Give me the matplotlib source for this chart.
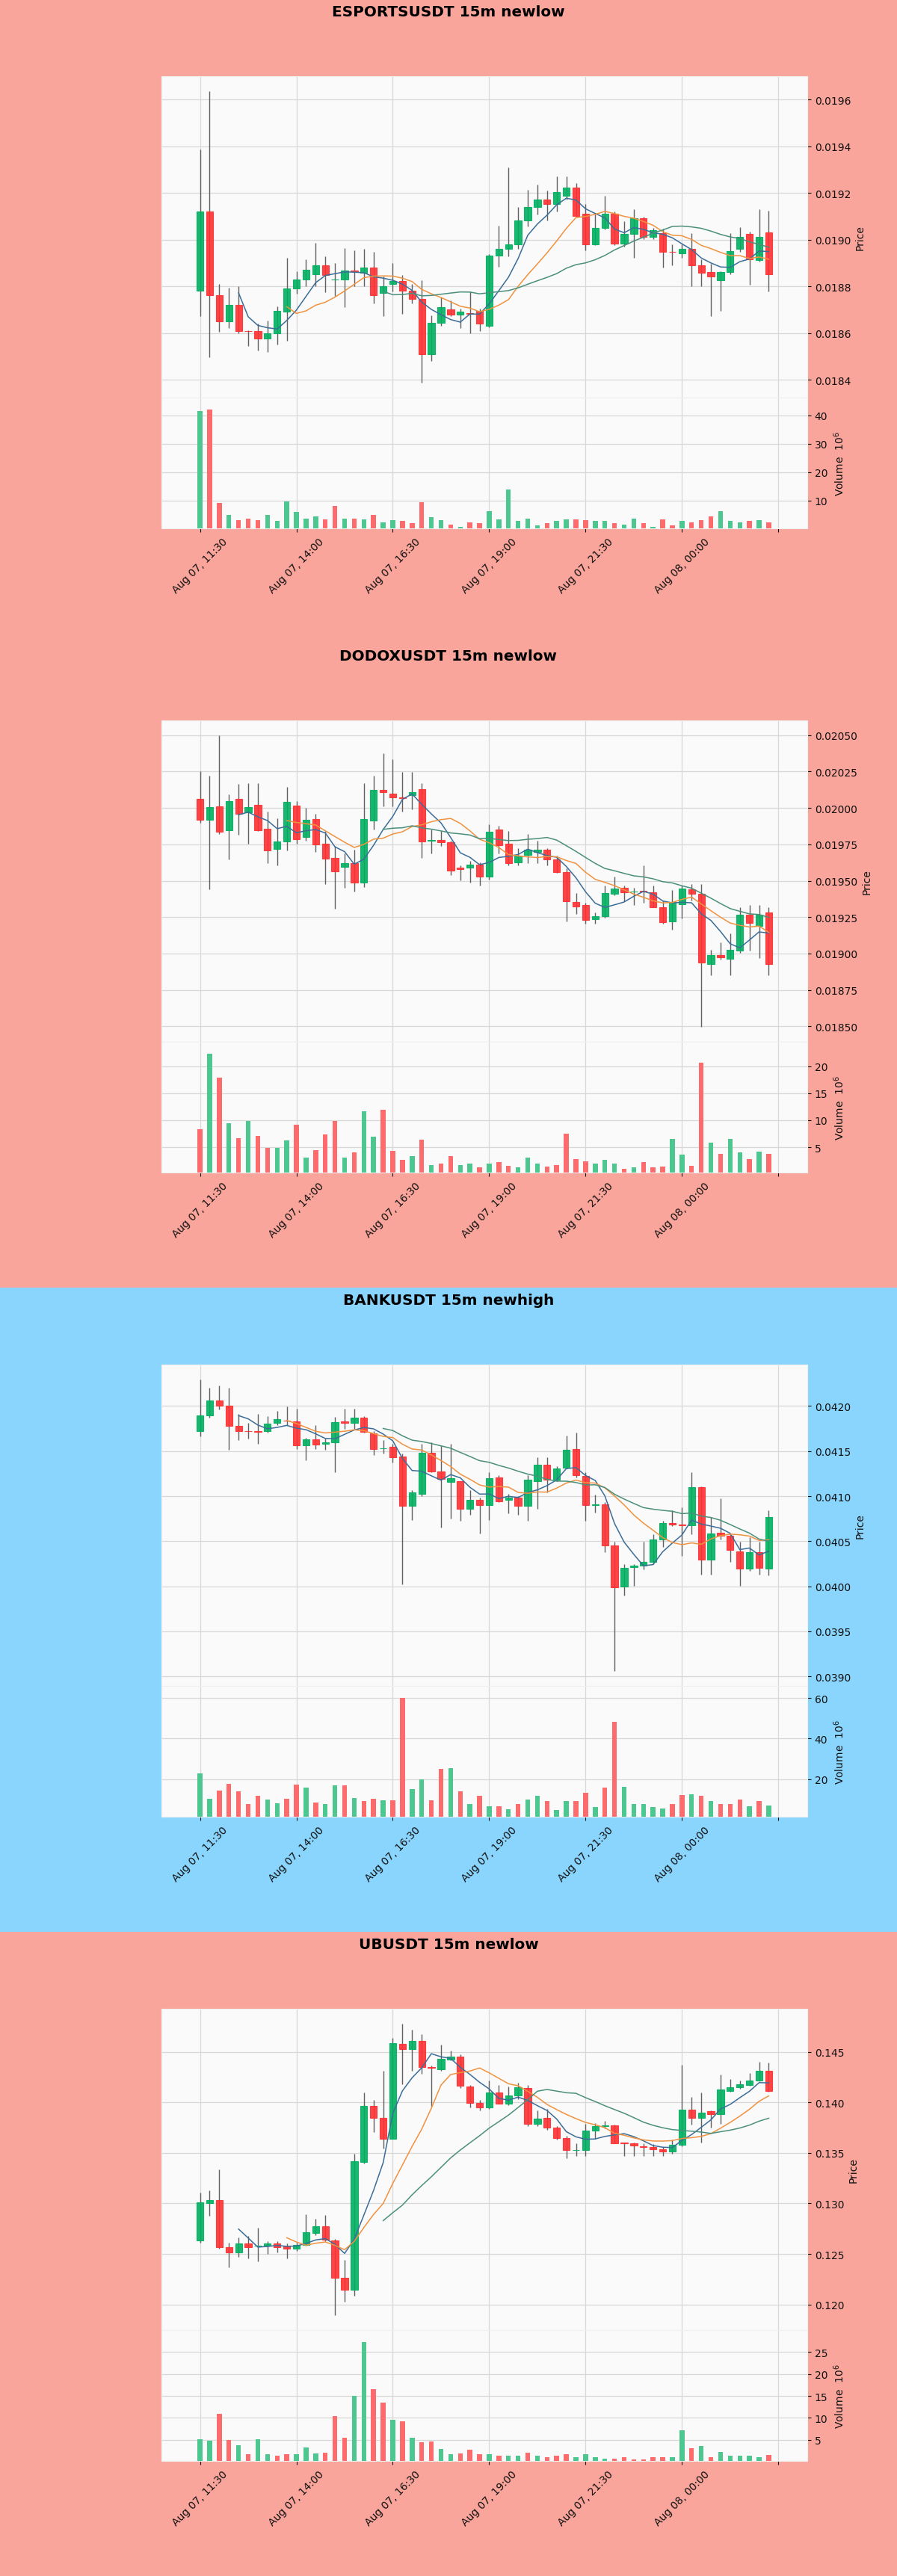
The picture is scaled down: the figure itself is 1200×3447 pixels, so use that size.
import matplotlib
matplotlib.use("Agg")
import matplotlib.pyplot as plt
from matplotlib.patches import Rectangle
from matplotlib.ticker import FormatStrFormatter
import numpy as np
import pandas as pd

# ---- dados (velas de 15m, 60 por painel) ----
tick_pos = [0, 10, 20, 30, 40, 50, 60]
tick_labels = ["Aug 07, 11:30", "Aug 07, 14:00", "Aug 07, 16:30",
               "Aug 07, 19:00", "Aug 07, 21:30", "Aug 08, 00:00", ""]
ma_windows = [5, 10, 20]

# ESPORTSUSDT
esports_open = [0.018781, 0.019119, 0.018761, 0.018649, 0.018721, 0.018609, 0.018607, 0.018577, 0.018598, 0.018690,
                0.018792, 0.018830, 0.018850, 0.018891, 0.018830, 0.018830, 0.018866, 0.018857, 0.018880, 0.018771,
                0.018811, 0.018824, 0.018781, 0.018747, 0.018510, 0.018643, 0.018701, 0.018678, 0.018685, 0.018694,
                0.018632, 0.018930, 0.018960, 0.018981, 0.019082, 0.019140, 0.019170, 0.019151, 0.019188, 0.019223,
                0.019110, 0.018981, 0.019050, 0.019110, 0.018983, 0.019023, 0.019090, 0.019011, 0.019029, 0.018949,
                0.018941, 0.018960, 0.018891, 0.018861, 0.018827, 0.018861, 0.018960, 0.019023, 0.018912, 0.019031]
esports_close = [0.019119, 0.018761, 0.018649, 0.018721, 0.018609, 0.018607, 0.018577, 0.018598, 0.018694, 0.018792,
                 0.018830, 0.018871, 0.018891, 0.018848, 0.018830, 0.018869, 0.018864, 0.018880, 0.018761, 0.018800,
                 0.018824, 0.018781, 0.018747, 0.018510, 0.018643, 0.018710, 0.018678, 0.018692, 0.018683, 0.018641,
                 0.018930, 0.018960, 0.018981, 0.019082, 0.019140, 0.019170, 0.019151, 0.019202, 0.019223, 0.019102,
                 0.018981, 0.019050, 0.019110, 0.018983, 0.019023, 0.019090, 0.019013, 0.019039, 0.018949, 0.018947,
                 0.018960, 0.018891, 0.018859, 0.018843, 0.018861, 0.018951, 0.019013, 0.018917, 0.019013, 0.018850]
esports_high = [0.019385, 0.019637, 0.018811, 0.018795, 0.018800, 0.018611, 0.018641, 0.018652, 0.018715, 0.018922,
                0.018864, 0.018917, 0.018986, 0.018928, 0.018901, 0.018965, 0.018954, 0.018960, 0.018949, 0.018843,
                0.018901, 0.018848, 0.018811, 0.018827, 0.018675, 0.018752, 0.018740, 0.018705, 0.018779, 0.018705,
                0.018938, 0.019061, 0.019308, 0.019140, 0.019212, 0.019236, 0.019209, 0.019270, 0.019270, 0.019241,
                0.019151, 0.019114, 0.019188, 0.019119, 0.019079, 0.019130, 0.019098, 0.019050, 0.019047, 0.018981,
                0.018981, 0.019029, 0.018917, 0.018896, 0.018864, 0.019029, 0.019053, 0.019034, 0.019130, 0.019124]
esports_low = [0.018673, 0.018495, 0.018604, 0.018620, 0.018598, 0.018545, 0.018524, 0.018519, 0.018551, 0.018567,
               0.018768, 0.018800, 0.018800, 0.018774, 0.018758, 0.018710, 0.018800, 0.018800, 0.018726, 0.018673,
               0.018779, 0.018683, 0.018726, 0.018386, 0.018479, 0.018630, 0.018673, 0.018620, 0.018598, 0.018609,
               0.018625, 0.018885, 0.018928, 0.018960, 0.019055, 0.019108, 0.019082, 0.019119, 0.019172, 0.019098,
               0.018954, 0.018976, 0.019045, 0.018976, 0.018970, 0.018922, 0.019002, 0.019002, 0.018880, 0.018891,
               0.018922, 0.018800, 0.018800, 0.018673, 0.018694, 0.018853, 0.018949, 0.018806, 0.018907, 0.018779]
esports_vol = [41.5, 42.0, 9.1, 5.1, 3.1, 3.6, 3.1, 5.1, 2.8, 9.6,
               6.1, 3.6, 4.5, 3.4, 8.1, 3.6, 3.6, 3.4, 5.0, 2.5,
               3.1, 2.8, 2.0, 9.5, 4.2, 3.1, 1.6, 0.9, 2.4, 2.0,
               6.3, 3.4, 14.0, 2.8, 3.6, 1.3, 2.0, 2.9, 3.5, 3.5,
               3.1, 2.8, 2.9, 2.0, 1.6, 3.8, 2.0, 0.9, 3.4, 1.3,
               2.8, 2.4, 3.1, 4.5, 6.3, 2.8, 2.4, 2.8, 3.1, 2.4]
esports_yticks = [0.0184, 0.0186, 0.0188, 0.0190, 0.0192, 0.0194, 0.0196]
esports_vticks = [10, 20, 30, 40]

# DODOXUSDT
dodox_open = [0.020060, 0.019920, 0.020009, 0.019844, 0.020060, 0.019967, 0.020021, 0.019857, 0.019718, 0.019769,
              0.020014, 0.019798, 0.019925, 0.019752, 0.019654, 0.019595, 0.019620, 0.019485, 0.019911, 0.020124,
              0.020097, 0.020074, 0.020085, 0.020128, 0.019772, 0.019781, 0.019764, 0.019590, 0.019590, 0.019612,
              0.019527, 0.019849, 0.019752, 0.019625, 0.019679, 0.019700, 0.019713, 0.019646, 0.019559, 0.019353,
              0.019333, 0.019234, 0.019256, 0.019409, 0.019451, 0.019424, 0.019432, 0.019421, 0.019319, 0.019219,
              0.019341, 0.019442, 0.019409, 0.018930, 0.018989, 0.018964, 0.019019, 0.019268, 0.019189, 0.019282]
dodox_close = [0.019916, 0.020004, 0.019837, 0.020048, 0.019959, 0.020006, 0.019844, 0.019708, 0.019769, 0.020040,
               0.019784, 0.019916, 0.019747, 0.019651, 0.019564, 0.019620, 0.019485, 0.019921, 0.020124, 0.020107,
               0.020072, 0.020068, 0.020107, 0.019767, 0.019778, 0.019764, 0.019569, 0.019580, 0.019612, 0.019527,
               0.019837, 0.019742, 0.019620, 0.019674, 0.019712, 0.019714, 0.019646, 0.019559, 0.019358, 0.019324,
               0.019231, 0.019256, 0.019414, 0.019448, 0.019421, 0.019427, 0.019425, 0.019319, 0.019214, 0.019353,
               0.019448, 0.019409, 0.018938, 0.018989, 0.018972, 0.019028, 0.019268, 0.019209, 0.019268, 0.018930]
dodox_high = [0.020250, 0.020221, 0.020500, 0.020091, 0.020162, 0.020170, 0.020170, 0.019975, 0.019928, 0.020145,
              0.020047, 0.020001, 0.019959, 0.019840, 0.019739, 0.019688, 0.019713, 0.020170, 0.020221, 0.020373,
              0.020331, 0.020246, 0.020246, 0.020170, 0.019849, 0.019840, 0.019772, 0.019603, 0.019637, 0.019624,
              0.019887, 0.019879, 0.019840, 0.019722, 0.019823, 0.019772, 0.019722, 0.019671, 0.019586, 0.019417,
              0.019349, 0.019282, 0.019468, 0.019527, 0.019468, 0.019451, 0.019603, 0.019468, 0.019366, 0.019434,
              0.019468, 0.019476, 0.019476, 0.019028, 0.019079, 0.019138, 0.019316, 0.019333, 0.019333, 0.019316]
dodox_low = [0.019899, 0.019442, 0.019823, 0.019646, 0.019815, 0.019756, 0.019840, 0.019620, 0.019603, 0.019708,
             0.019756, 0.019772, 0.019696, 0.019476, 0.019307, 0.019451, 0.019426, 0.019459, 0.019849, 0.020009,
             0.020009, 0.019975, 0.019992, 0.019654, 0.019688, 0.019739, 0.019536, 0.019502, 0.019488, 0.019468,
             0.019510, 0.019688, 0.019603, 0.019603, 0.019620, 0.019620, 0.019603, 0.019552, 0.019223, 0.019273,
             0.019206, 0.019206, 0.019248, 0.019400, 0.019358, 0.019333, 0.019349, 0.019316, 0.019206, 0.019163,
             0.019239, 0.019366, 0.018495, 0.018850, 0.018960, 0.018850, 0.019003, 0.019019, 0.018969, 0.018850]
dodox_vol = [8.3, 22.3, 17.9, 9.4, 6.7, 9.9, 7.1, 4.9, 4.8, 6.2,
             9.2, 3.0, 4.5, 7.3, 9.8, 3.1, 4.1, 11.6, 7.0, 11.9,
             4.3, 2.7, 3.4, 6.4, 1.7, 2.0, 3.4, 1.7, 2.0, 1.25,
             2.0, 2.2, 1.5, 1.2, 3.1, 1.9, 1.4, 1.7, 7.5, 2.8,
             2.4, 2.0, 2.7, 1.9, 1.0, 1.25, 2.2, 1.25, 1.35, 6.5,
             3.6, 1.6, 20.6, 5.9, 3.8, 6.5, 4.1, 2.8, 4.2, 3.8]
dodox_yticks = [0.01850, 0.01875, 0.01900, 0.01925, 0.01950, 0.01975, 0.02000, 0.02025, 0.02050]
dodox_vticks = [5, 10, 15, 20]

# BANKUSDT
bank_open = [0.041719, 0.041892, 0.042058, 0.042003, 0.041779, 0.041722, 0.041719, 0.041719, 0.041810, 0.041840,
             0.041829, 0.041567, 0.041628, 0.041581, 0.041594, 0.041826, 0.041815, 0.041870, 0.041699, 0.041528,
             0.041545, 0.041437, 0.040891, 0.041029, 0.041484, 0.041277, 0.041160, 0.041167, 0.040863, 0.040960,
             0.040905, 0.041208, 0.040960, 0.040982, 0.040891, 0.041167, 0.041346, 0.041181, 0.041319, 0.041525,
             0.041227, 0.040902, 0.040910, 0.040449, 0.039994, 0.040215, 0.040229, 0.040270, 0.040518, 0.040706,
             0.040686, 0.040680, 0.041098, 0.040292, 0.040596, 0.040560, 0.040386, 0.040193, 0.040380, 0.040193]
bank_close = [0.041898, 0.042058, 0.042008, 0.041782, 0.041724, 0.041718, 0.041715, 0.041801, 0.041857, 0.041835,
              0.041567, 0.041628, 0.041572, 0.041600, 0.041821, 0.041810, 0.041870, 0.041710, 0.041525, 0.041532,
              0.041434, 0.040891, 0.041043, 0.041484, 0.041277, 0.041194, 0.041200, 0.040863, 0.040960, 0.040899,
              0.041200, 0.040946, 0.040987, 0.040891, 0.041181, 0.041346, 0.041181, 0.041305, 0.041517, 0.041236,
              0.040905, 0.040908, 0.040449, 0.039986, 0.040201, 0.040229, 0.040270, 0.040518, 0.040698, 0.040684,
              0.040680, 0.041098, 0.040292, 0.040587, 0.040560, 0.040403, 0.040193, 0.040380, 0.040201, 0.040772]
bank_high = [0.042298, 0.042201, 0.042229, 0.042201, 0.041912, 0.041815, 0.041912, 0.041884, 0.041948, 0.041994,
             0.041967, 0.041650, 0.041788, 0.041636, 0.041876, 0.041967, 0.041972, 0.041884, 0.041719, 0.041622,
             0.041581, 0.041470, 0.041070, 0.041581, 0.041594, 0.041567, 0.041581, 0.041098, 0.041070, 0.040987,
             0.041263, 0.041236, 0.041029, 0.041001, 0.041236, 0.041434, 0.041434, 0.041332, 0.041672, 0.041705,
             0.041263, 0.041015, 0.040932, 0.040491, 0.040243, 0.040243, 0.040491, 0.040574, 0.040725, 0.040844,
             0.040877, 0.041263, 0.041112, 0.040767, 0.040974, 0.040587, 0.040491, 0.040546, 0.040491, 0.040844]
bank_low = [0.041663, 0.041870, 0.041960, 0.041512, 0.041622, 0.041636, 0.041581, 0.041705, 0.041788, 0.041788,
            0.041525, 0.041401, 0.041525, 0.041512, 0.041263, 0.041746, 0.041746, 0.041705, 0.041456, 0.041470,
            0.041374, 0.040022, 0.040739, 0.041001, 0.041263, 0.040656, 0.040753, 0.040725, 0.040794, 0.040587,
            0.040739, 0.040932, 0.040808, 0.040794, 0.040725, 0.040863, 0.041043, 0.041167, 0.041305, 0.041208,
            0.040725, 0.040822, 0.040380, 0.039056, 0.039898, 0.040008, 0.040187, 0.040243, 0.040436, 0.040670,
            0.040339, 0.040574, 0.040132, 0.040132, 0.040518, 0.040270, 0.040008, 0.040174, 0.040132, 0.040118]
bank_vol = [23.0, 10.3, 14.3, 17.8, 14.0, 7.6, 11.8, 9.9, 8.1, 10.3,
            17.1, 15.8, 8.3, 7.6, 16.8, 16.8, 10.6, 9.3, 10.3, 9.6,
            9.6, 60.0, 15.0, 20.0, 9.6, 25.2, 25.5, 13.8, 7.6, 11.8,
            6.6, 6.6, 5.0, 7.6, 9.9, 11.8, 9.1, 4.7, 9.1, 9.1,
            13.3, 6.3, 15.8, 48.1, 16.1, 7.8, 7.6, 6.2, 5.3, 7.6,
            12.2, 12.4, 11.8, 9.1, 7.6, 7.6, 9.9, 6.6, 9.1, 7.1]
bank_yticks = [0.0390, 0.0395, 0.0400, 0.0405, 0.0410, 0.0415, 0.0420]
bank_vticks = [20, 40, 60]

# UBUSDT
ub_open = [0.12632, 0.13005, 0.13034, 0.12569, 0.12515, 0.12600, 0.12578, 0.12583, 0.12605, 0.12576,
           0.12551, 0.12588, 0.12706, 0.12772, 0.12632, 0.12262, 0.12142, 0.13409, 0.13966, 0.13850,
           0.13642, 0.14578, 0.14529, 0.14610, 0.14350, 0.14328, 0.14422, 0.14456, 0.14157, 0.13995,
           0.13949, 0.14100, 0.13990, 0.14071, 0.14145, 0.13789, 0.13846, 0.13752, 0.13647, 0.13528,
           0.13532, 0.13721, 0.13768, 0.13770, 0.13600, 0.13593, 0.13569, 0.13556, 0.13539, 0.13515,
           0.13581, 0.13929, 0.13843, 0.13912, 0.13882, 0.14115, 0.14150, 0.14169, 0.14218, 0.14316]
ub_close = [0.13010, 0.13034, 0.12569, 0.12515, 0.12600, 0.12569, 0.12584, 0.12600, 0.12569, 0.12551,
            0.12588, 0.12711, 0.12772, 0.12637, 0.12262, 0.12142, 0.13417, 0.13966, 0.13850, 0.13642,
            0.14586, 0.14529, 0.14610, 0.14346, 0.14340, 0.14431, 0.14456, 0.14162, 0.13998, 0.13949,
            0.14100, 0.13990, 0.14071, 0.14150, 0.13789, 0.13838, 0.13752, 0.13647, 0.13525, 0.13532,
            0.13721, 0.13765, 0.13773, 0.13598, 0.13596, 0.13574, 0.13556, 0.13539, 0.13515, 0.13581,
            0.13929, 0.13843, 0.13900, 0.13882, 0.14125, 0.14150, 0.14176, 0.14218, 0.14309, 0.14113]
ub_high = [0.13103, 0.13127, 0.13336, 0.12613, 0.12662, 0.12674, 0.12760, 0.12625, 0.12625, 0.12600,
           0.12613, 0.12895, 0.12846, 0.12887, 0.12649, 0.12441, 0.13495, 0.14096, 0.14022, 0.14316,
           0.14635, 0.14782, 0.14721, 0.14672, 0.14365, 0.14574, 0.14512, 0.14475, 0.14169, 0.14022,
           0.14218, 0.14169, 0.14157, 0.14194, 0.14169, 0.13917, 0.13936, 0.13765, 0.13667, 0.13598,
           0.13789, 0.13794, 0.13814, 0.13777, 0.13605, 0.13605, 0.13593, 0.13586, 0.13556, 0.13630,
           0.14373, 0.14051, 0.14096, 0.13924, 0.14279, 0.14230, 0.14218, 0.14292, 0.14402, 0.14397]
ub_low = [0.12613, 0.12877, 0.12551, 0.12368, 0.12471, 0.12453, 0.12429, 0.12502, 0.12515, 0.12453,
          0.12527, 0.12583, 0.12686, 0.12625, 0.11890, 0.12024, 0.12086, 0.13397, 0.13703, 0.13544,
          0.13637, 0.14181, 0.14316, 0.14284, 0.13961, 0.14316, 0.14414, 0.14145, 0.13949, 0.13924,
          0.13936, 0.13985, 0.13973, 0.14034, 0.13765, 0.13765, 0.13728, 0.13630, 0.13446, 0.13471,
          0.13471, 0.13642, 0.13740, 0.13593, 0.13471, 0.13471, 0.13471, 0.13471, 0.13471, 0.13495,
          0.13569, 0.13777, 0.13605, 0.13752, 0.13789, 0.14103, 0.14137, 0.14162, 0.14206, 0.14103]
ub_vol = [5.2, 4.8, 10.9, 5.0, 3.8, 1.8, 5.2, 1.7, 1.3, 1.7,
          1.7, 3.3, 1.9, 2.1, 10.4, 5.4, 15.1, 27.3, 16.5, 13.4,
          9.5, 9.3, 5.5, 4.5, 4.7, 2.9, 1.8, 1.9, 2.7, 1.7,
          1.7, 1.4, 1.3, 1.3, 2.1, 1.3, 1.1, 1.4, 1.8, 1.0,
          1.8, 1.1, 0.7, 0.7, 1.1, 0.6, 0.6, 1.0, 1.0, 1.1,
          7.1, 3.0, 3.6, 1.0, 2.2, 1.4, 1.4, 1.4, 1.1, 1.5]
ub_yticks = [0.120, 0.125, 0.130, 0.135, 0.140, 0.145]
ub_vticks = [5, 10, 15, 20, 25]

# ---- estilo ----
FIG_W, FIG_H, SEC = 1200, 3448, 862
BG_LOW = "#f9a59b"
BG_HIGH = "#8ad5fd"
UP, DOWN, WICK = "#00b060", "#fe3032", "#606060"
VUP, VDOWN = "#4dc790", "#fd6b6c"
MA_COLORS = ["#3b6d99", "#f0923f", "#4b8f7c"]
GRID = "#d8d8d8"

fig = plt.figure(figsize=(FIG_W / 100, FIG_H / 100), dpi=100)


def fy(px):
    return 1 - px / FIG_H


def desenhar_painel(k, titulo, fundo, o, h, l, c, v, yticks, yfmt, vticks):
    o, h, l, c, v = (np.asarray(a, dtype=float) for a in (o, h, l, c, v))
    topo = k * SEC

    # fundo da secao
    fig.add_artist(Rectangle((0, fy(topo + SEC)), 1, SEC / FIG_H, transform=fig.transFigure,
                             facecolor=fundo, edgecolor="none", zorder=-5))
    fig.text(0.5, fy(topo + 17), titulo, ha="center", va="center",
             fontsize=14.4, fontweight="bold", color="black")

    axp = fig.add_axes([216 / FIG_W, fy(topo + 533), 864 / FIG_W, 430 / FIG_H])
    axv = fig.add_axes([216 / FIG_W, fy(topo + 708), 864 / FIG_W, 175 / FIG_H], sharex=axp)

    x = np.arange(len(c))
    sobe = c >= o
    cores = np.where(sobe, UP, DOWN)

    # velas
    axp.vlines(x, l, h, color=WICK, linewidth=1.0, zorder=2)
    axp.bar(x, np.abs(c - o), bottom=np.minimum(o, c), width=0.72, color=cores,
            edgecolor=cores, linewidth=0.8, alpha=0.9, zorder=3)

    # medias moveis
    for n, cor in zip(ma_windows, MA_COLORS):
        mm = pd.Series(c).rolling(n).mean()
        axp.plot(x, mm, color=cor, linewidth=1.1, zorder=4)

    # volume colorido pelo fechamento anterior
    anterior = np.r_[o[0], c[:-1]]
    vcores = np.where(c >= anterior, VUP, VDOWN)
    axv.bar(x, v, width=0.5, color=vcores, zorder=3)

    faixa = h.max() - l.min()
    axp.set_ylim(l.min() - 0.05 * faixa, h.max() + 0.05 * faixa)
    axv.set_ylim(0.3 * v.min(), 1.1 * v.max())
    axp.set_xlim(-4, 63)

    for ax in (axp, axv):
        ax.set_facecolor("#fafafa")
        ax.grid(True, color=GRID, linewidth=0.9, linestyle="-")
        ax.set_axisbelow(True)
        ax.yaxis.tick_right()
        ax.yaxis.set_label_position("right")
        ax.tick_params(axis="y", colors="#101010", labelsize=10)
        for spine in ax.spines.values():
            spine.set_color("#f0f0f0")

    axp.set_yticks(yticks)
    axp.yaxis.set_major_formatter(FormatStrFormatter(yfmt))
    axp.set_ylabel("Price", color="#101010", fontsize=10)
    axp.tick_params(axis="x", labelbottom=False, length=0)

    axv.set_yticks(vticks)
    axv.set_ylabel("Volume  $10^{6}$", color="#101010", fontsize=10)
    axv.set_xticks(tick_pos)
    axv.set_xticklabels(tick_labels, rotation=45, fontsize=10, color="#101010")
    axv.tick_params(axis="x", colors="#101010")


desenhar_painel(0, "ESPORTSUSDT 15m newlow", BG_LOW, esports_open, esports_high, esports_low,
                esports_close, esports_vol, esports_yticks, "%.4f", esports_vticks)
desenhar_painel(1, "DODOXUSDT 15m newlow", BG_LOW, dodox_open, dodox_high, dodox_low,
                dodox_close, dodox_vol, dodox_yticks, "%.5f", dodox_vticks)
desenhar_painel(2, "BANKUSDT 15m newhigh", BG_HIGH, bank_open, bank_high, bank_low,
                bank_close, bank_vol, bank_yticks, "%.4f", bank_vticks)
desenhar_painel(3, "UBUSDT 15m newlow", BG_LOW, ub_open, ub_high, ub_low,
                ub_close, ub_vol, ub_yticks, "%.3f", ub_vticks)

plt.savefig("out.png", dpi=100)
plt.close(fig)
